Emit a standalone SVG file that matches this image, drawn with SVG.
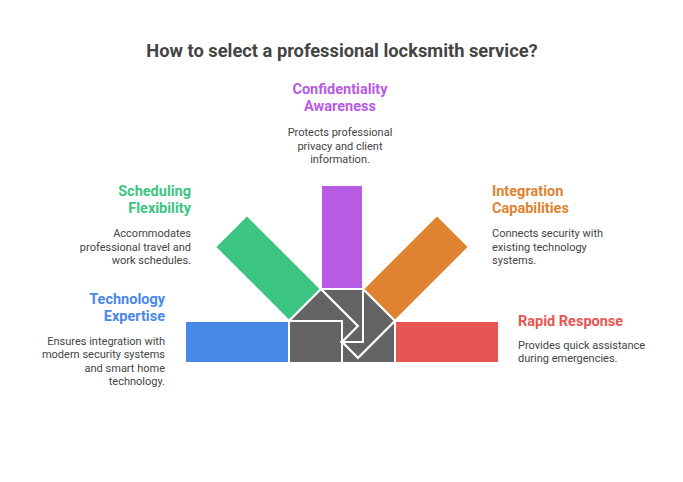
<svg xmlns="http://www.w3.org/2000/svg" width="683" height="482" viewBox="0 0 683 482">
<style>
.t{font-family:Roboto,"Liberation Sans",sans-serif;}
.title{font-size:18.3px;font-weight:bold;fill:#444;text-anchor:middle;}
.h{font-size:14.5px;font-weight:bold;}
.d{font-size:11px;fill:#444;}
.s{stroke:#fff;stroke-width:2;stroke-linejoin:miter;}
.g{fill:#646464;}
</style>
<rect width="683" height="482" fill="#fff"/>
<text class="t title" x="342" y="56.5">How to select a professional locksmith service?</text>

<g id="bars">
<polygon id="bar-blue" class="s" fill="#4a88e8" points="185,321 289,321 289,363 185,363"/>
<polygon id="bar-green" class="s" fill="#3cc583" points="289,321 321,289 247,215 215,247"/>
<polygon id="bar-purple" class="s" fill="#b75ae4" points="321,185 363,185 363,289 321,289"/>
<polygon id="bar-orange" class="s" fill="#e08330" points="395,321 363,289 437,215 469,247"/>
<polygon id="bar-red" class="s" fill="#e65652" points="395,321 499,321 499,363 395,363"/>
</g>
<g id="center">
<polygon class="s g" points="289,321 342,321 342,363 289,363"/>
<polygon class="s g" points="289,321 321,289 358,326 342,342 342,321"/>
<polygon class="s g" points="321,289 363,289 363,342 342,342 358,326"/>
<polygon class="s g" points="363,289 395,321 358,358 342,342 363,342"/>
<polygon class="s g" points="395,321 395,363 342,363 342,342 358,358"/>
</g>

<g id="node-confidentiality" class="t">
<text class="h" fill="#b75ae4" text-anchor="middle" x="340" y="93.5">Confidentiality</text>
<text class="h" fill="#b75ae4" text-anchor="middle" x="340" y="111">Awareness</text>
<text class="d" text-anchor="middle" x="340" y="136">Protects professional</text>
<text class="d" text-anchor="middle" x="340" y="149.5">privacy and client</text>
<text class="d" text-anchor="middle" x="340" y="163">information.</text>
</g>
<g id="node-scheduling" class="t">
<text class="h" fill="#3cc583" text-anchor="end" x="191" y="195.5">Scheduling</text>
<text class="h" fill="#3cc583" text-anchor="end" x="191" y="213">Flexibility</text>
<text class="d" text-anchor="end" x="191" y="237">Accommodates</text>
<text class="d" text-anchor="end" x="191" y="250.5">professional travel and</text>
<text class="d" text-anchor="end" x="191" y="264">work schedules.</text>
</g>
<g id="node-technology" class="t">
<text class="h" fill="#4a88e8" text-anchor="end" x="165" y="303.5">Technology</text>
<text class="h" fill="#4a88e8" text-anchor="end" x="165" y="321">Expertise</text>
<text class="d" text-anchor="end" x="165" y="344.5">Ensures integration with</text>
<text class="d" text-anchor="end" x="165" y="358">modern security systems</text>
<text class="d" text-anchor="end" x="165" y="371.5">and smart home</text>
<text class="d" text-anchor="end" x="165" y="385">technology.</text>
</g>
<g id="node-integration" class="t">
<text class="h" fill="#e08330" x="492" y="195.5">Integration</text>
<text class="h" fill="#e08330" x="492" y="213">Capabilities</text>
<text class="d" x="492" y="237">Connects security with</text>
<text class="d" x="492" y="250.5">existing technology</text>
<text class="d" x="492" y="264">systems.</text>
</g>
<g id="node-rapid" class="t">
<text class="h" fill="#e65652" x="518" y="326">Rapid Response</text>
<text class="d" x="518" y="348.5">Provides quick assistance</text>
<text class="d" x="518" y="362">during emergencies.</text>
</g>
</svg>
